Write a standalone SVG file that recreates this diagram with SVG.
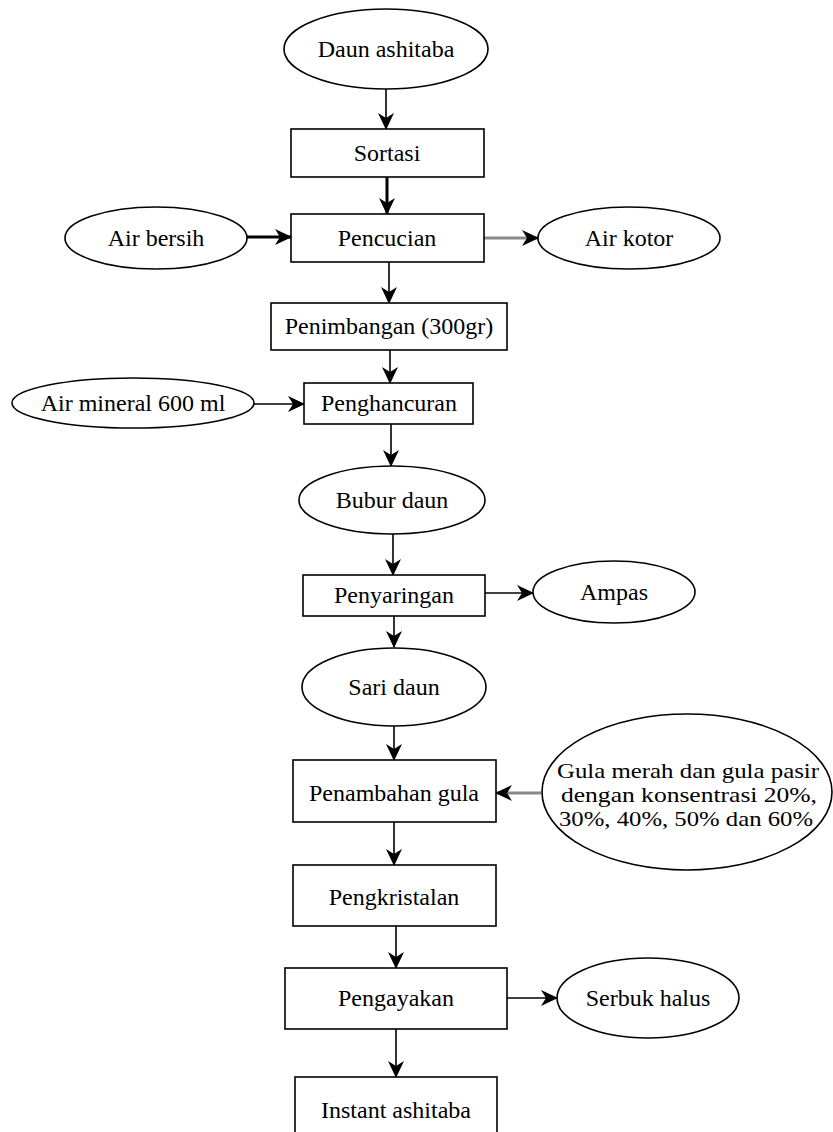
<svg xmlns="http://www.w3.org/2000/svg" width="833" height="1132" viewBox="0 0 833 1132">
<defs>
<style>
.n{fill:#fff;stroke:#000;stroke-width:1.6}
.t{font-family:"Liberation Serif","Times New Roman",serif;font-size:24px;fill:#000;text-anchor:middle}
.g{font-family:"Liberation Serif","Times New Roman",serif;font-size:22px;fill:#000;text-anchor:middle}
.c{fill:none;stroke:#000;stroke-width:1.6}
.ck{fill:none;stroke:#000;stroke-width:3}
.cg{fill:none;stroke:#888;stroke-width:3}
</style>
<marker id="ah" markerUnits="userSpaceOnUse" markerWidth="18" markerHeight="16" refX="16" refY="8" orient="auto">
<path d="M0,0 L17,8 L0,16 L5,8 Z" fill="#000"/>
</marker>
</defs>
<rect width="833" height="1132" fill="#fff"/>
<g id="connectors">
<line class="c" x1="386" y1="89" x2="386" y2="129" marker-end="url(#ah)"/>
<line class="ck" x1="387" y1="177" x2="387" y2="214" marker-end="url(#ah)"/>
<line class="ck" x1="247" y1="237" x2="291" y2="237" marker-end="url(#ah)"/>
<line class="cg" x1="484" y1="238" x2="538" y2="238" marker-end="url(#ah)"/>
<line class="c" x1="389" y1="262" x2="389" y2="303" stroke="#555" marker-end="url(#ah)"/>
<line class="c" x1="390" y1="350" x2="390" y2="383" marker-end="url(#ah)"/>
<line class="c" x1="254" y1="404" x2="304" y2="404" marker-end="url(#ah)"/>
<line class="c" x1="391" y1="424" x2="391" y2="466" marker-end="url(#ah)"/>
<line class="c" x1="393" y1="533" x2="393" y2="575" marker-end="url(#ah)"/>
<line class="c" x1="485" y1="593" x2="533" y2="593" marker-end="url(#ah)"/>
<line class="c" x1="394" y1="616" x2="394" y2="647" marker-end="url(#ah)"/>
<line class="c" x1="394" y1="726" x2="394" y2="760" marker-end="url(#ah)"/>
<line class="cg" x1="541" y1="793" x2="496" y2="793" marker-end="url(#ah)"/>
<line class="c" x1="394" y1="822" x2="394" y2="865" marker-end="url(#ah)"/>
<line class="c" x1="396" y1="926" x2="396" y2="968" marker-end="url(#ah)"/>
<line class="c" x1="507" y1="998" x2="557" y2="998" marker-end="url(#ah)"/>
<line class="c" x1="396" y1="1029" x2="396" y2="1077" marker-end="url(#ah)"/>
</g>
<g id="daun-ashitaba"><ellipse class="n" cx="386" cy="49" rx="102" ry="40"/><text class="t" x="386" y="57">Daun ashitaba</text></g>
<g id="sortasi"><rect class="n" x="291" y="129" width="193" height="48"/><text class="t" x="387" y="161">Sortasi</text></g>
<g id="air-bersih"><ellipse class="n" cx="156" cy="238" rx="91" ry="31"/><text class="t" x="156" y="246">Air bersih</text></g>
<g id="pencucian"><rect class="n" x="291" y="214" width="193" height="48"/><text class="t" x="387" y="246">Pencucian</text></g>
<g id="air-kotor"><ellipse class="n" cx="629" cy="238" rx="91" ry="31"/><text class="t" x="629" y="246">Air kotor</text></g>
<g id="penimbangan"><rect class="n" x="271" y="303" width="236" height="47"/><text class="t" x="389" y="334">Penimbangan (300gr)</text></g>
<g id="air-mineral"><ellipse class="n" cx="133" cy="403" rx="121" ry="25"/><text class="t" x="133" y="411">Air mineral 600 ml</text></g>
<g id="penghancuran"><rect class="n" x="304" y="383" width="169" height="41"/><text class="t" x="389" y="411">Penghancuran</text></g>
<g id="bubur-daun"><ellipse class="n" cx="392" cy="500" rx="93" ry="34"/><text class="t" x="392" y="508">Bubur daun</text></g>
<g id="penyaringan"><rect class="n" x="303" y="575" width="182" height="41"/><text class="t" x="394" y="603">Penyaringan</text></g>
<g id="ampas"><ellipse class="n" cx="614" cy="592" rx="81" ry="31"/><text class="t" x="614" y="600">Ampas</text></g>
<g id="sari-daun"><ellipse class="n" cx="394" cy="687" rx="92" ry="39"/><text class="t" x="394" y="695">Sari daun</text></g>
<g id="penambahan-gula"><rect class="n" x="293" y="760" width="203" height="62"/><text class="t" x="394" y="801">Penambahan gula</text></g>
<g id="gula"><ellipse class="n" cx="687" cy="792" rx="145" ry="78"/><text class="g" x="688" y="778" textLength="262" lengthAdjust="spacingAndGlyphs">Gula merah dan gula pasir</text><text class="g" x="689" y="802" textLength="256" lengthAdjust="spacingAndGlyphs">dengan konsentrasi 20%,</text><text class="g" x="686" y="826" textLength="254" lengthAdjust="spacingAndGlyphs">30%, 40%, 50% dan 60%</text></g>
<g id="pengkristalan"><rect class="n" x="293" y="865" width="203" height="61"/><text class="t" x="394" y="905">Pengkristalan</text></g>
<g id="pengayakan"><rect class="n" x="285" y="968" width="222" height="61"/><text class="t" x="396" y="1006">Pengayakan</text></g>
<g id="serbuk-halus"><ellipse class="n" cx="648" cy="998" rx="91" ry="40"/><text class="t" x="648" y="1006">Serbuk halus</text></g>
<g id="instant-ashitaba"><rect class="n" x="295" y="1077" width="202" height="80"/><text class="t" x="396" y="1118">Instant ashitaba</text></g>
</svg>
